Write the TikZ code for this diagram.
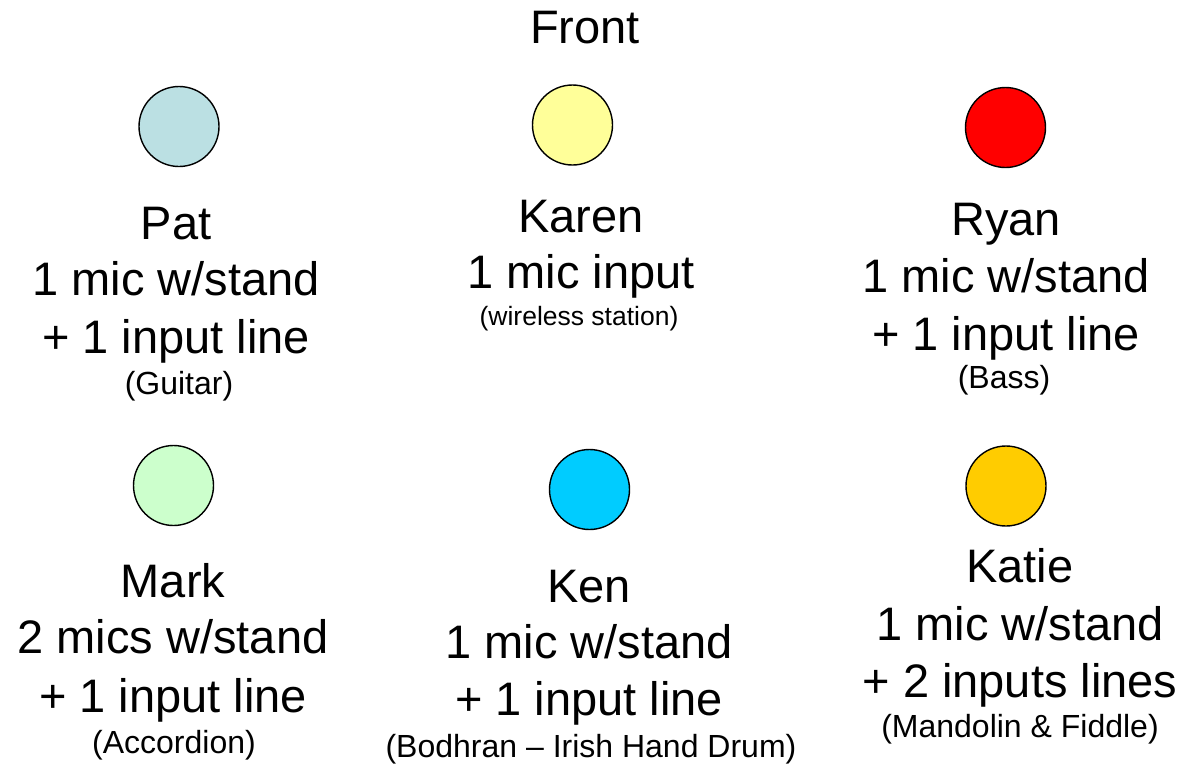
\documentclass[tikz,border=0pt]{standalone}
\usepackage{fontspec}
\setmainfont{Liberation Sans}
\definecolor{patc}{HTML}{BBE0E3}
\definecolor{karenc}{HTML}{FFFF99}
\definecolor{ryanc}{HTML}{FF0000}
\definecolor{markc}{HTML}{CCFFCC}
\definecolor{kenc}{HTML}{00CCFF}
\definecolor{katiec}{HTML}{FFCC00}
\tikzset{
  person/.style={circle, draw=black, line width=1.4pt, minimum size=80pt, inner sep=0pt},
  big/.style={anchor=base, inner sep=0pt, font=\fontsize{47}{56}\selectfont},
  small/.style={anchor=base, inner sep=0pt, font=\fontsize{32}{38}\selectfont},
  tiny/.style={anchor=base, inner sep=0pt, font=\fontsize{26.5}{32}\selectfont},
}
\begin{document}
\begin{tikzpicture}[x=1pt,y=-1pt]
\useasboundingbox (0,0) rectangle (1184,764);
\node[big] (front) at (585,43) {Front};
% circles
\node[person, fill=patc]   (pat)   at (179,126.5) {};
\node[person, fill=karenc] (karen) at (572.5,125) {};
\node[person, fill=ryanc]  (ryan)  at (1005.5,127.5) {};
\node[person, fill=markc]  (mark)  at (173.5,485.5) {};
\node[person, fill=kenc]   (ken)   at (589.5,489.5) {};
\node[person, fill=katiec] (katie) at (1006,486) {};
% Pat
\node[big] (pat1) at (176,239) {Pat};
\node[big] (pat2) at (176,295) {1 mic w/stand};
\node[big] (pat3) at (176,353) {+ 1 input line};
\node[small] (pat4) at (179,394) {(Guitar)};
% Karen
\node[big] (karen1) at (581,232) {Karen};
\node[big] (karen2) at (581,288) {1 mic input};
\node[tiny] (karen3) at (579,325) {(wireless station)};
% Ryan
\node[big] (ryan1) at (1006,235) {Ryan};
\node[big] (ryan2) at (1006,292) {1 mic w/stand};
\node[big] (ryan3) at (1006,350) {+ 1 input line};
\node[small] (ryan4) at (1004,388) {(Bass)};
% Mark
\node[big] (mark1) at (173,597) {Mark};
\node[big] (mark2) at (173,653) {2 mics w/stand};
\node[big] (mark3) at (173,712) {+ 1 input line};
\node[small] (mark4) at (174,753) {(Accordion)};
% Ken
\node[big] (ken1) at (589,602) {Ken};
\node[big] (ken2) at (589,658) {1 mic w/stand};
\node[big] (ken3) at (589,715) {+ 1 input line};
\node[small] (ken4) at (591,757) {(Bodhran – Irish Hand Drum)};
% Katie
\node[big] (katie1) at (1020,582) {Katie};
\node[big] (katie2) at (1020,640) {1 mic w/stand};
\node[big] (katie3) at (1020,697) {+ 2 inputs lines};
\node[small] (katie4) at (1020,737) {(Mandolin \& Fiddle)};
\end{tikzpicture}
\end{document}
